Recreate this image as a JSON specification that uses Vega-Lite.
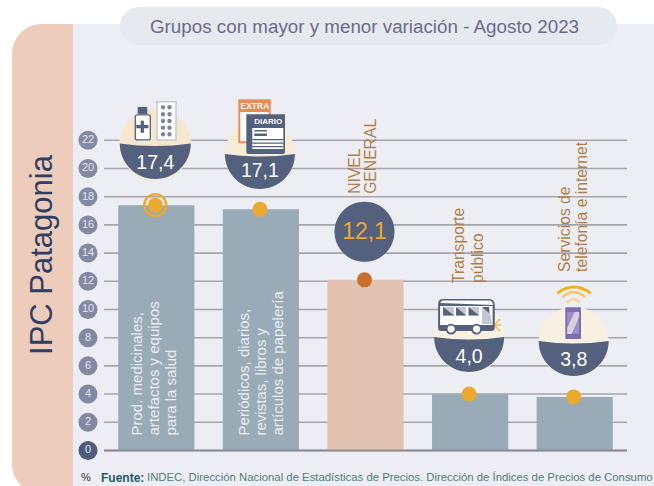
{"$schema":"https://vega.github.io/schema/vega-lite/v6.json","width":654,"height":486,"padding":0,"autosize":"none","background":"white","config":{"view":{"stroke":null},"text":{"font":"Liberation Sans"}},
"title":{"text":"Grupos con mayor y menor variación - Agosto 2023","frame":"group","anchor":"start","dx":150,"offset":-37,"font":"Liberation Sans","fontSize":18.8,"fontWeight":"normal","color":"#6d6a8e"},
"data":{"values":[
{"clave":"salud","grupo":"Prod. medicinales, artefactos y equipos para la salud","valor":17.4,"etiqueta":"17,4","tipo":"grupo","rotulo":"Prod. medicinales,|artefactos y equipos|para la salud"},
{"clave":"diarios","grupo":"Periódicos, diarios, revistas, libros y artículos de papelería","valor":17.1,"etiqueta":"17,1","tipo":"grupo","rotulo":"Periódicos, diarios,|revistas, libros y|artículos de papelería"},
{"clave":"general","grupo":"NIVEL GENERAL","valor":12.1,"etiqueta":"12,1","tipo":"general","rotulo":"NIVEL|GENERAL"},
{"clave":"transporte","grupo":"Transporte público","valor":4.0,"etiqueta":"4,0","tipo":"grupo","rotulo":"Transporte|público"},
{"clave":"telefonia","grupo":"Servicios de telefonía e internet","valor":3.8,"etiqueta":"3,8","tipo":"grupo","rotulo":"Servicios  de|telefonía e internet"}
]},
"encoding":{
"x":{"field":"grupo","type":"nominal","sort":null,"axis":null,"scale":{"type":"band","range":[104,627],"paddingInner":0.272,"paddingOuter":0.136}},
"y":{"field":"valor","type":"quantitative","axis":null,"scale":{"domain":[-2.52,31.95],"nice":false,"zero":false}}
},
"layer":[
{"data":{"values":[{}]},"mark":{"type":"rect","color":"#edeef3"},"encoding":{"x":{"value":73},"x2":{"value":654},"y":{"value":24},"y2":{"value":486}}},
{"data":{"values":[{}]},"mark":{"type":"rect","color":"#eeccbc","cornerRadiusTopLeft":30,"cornerRadiusBottomLeft":30},"encoding":{"x":{"value":12},"x2":{"value":73},"y":{"value":24},"y2":{"value":494}}},
{"data":{"values":[{}]},"mark":{"type":"rect","color":"#e6e9ed","cornerRadius":19},"encoding":{"x":{"value":120},"x2":{"value":617},"y":{"value":7},"y2":{"value":45}}},
{"data":{"values":[{"tick":2},{"tick":4},{"tick":6},{"tick":8},{"tick":10},{"tick":12},{"tick":14},{"tick":16},{"tick":18},{"tick":20},{"tick":22},{"tick":0}]},"mark":{"type":"rule","color":"#a4a5ac","strokeWidth":1.6},"encoding":{"x":{"value":104},"x2":{"value":627},"y":{"field":"tick","type":"quantitative","axis":null,"scale":{"domain":[-2.52,31.95],"nice":false,"zero":false}}}},
{"data":{"values":[{"tick":0},{"tick":2},{"tick":4},{"tick":6},{"tick":8},{"tick":10},{"tick":12},{"tick":14},{"tick":16},{"tick":18},{"tick":20},{"tick":22}]},"mark":{"type":"point","filled":true,"opacity":1,"size":361},"encoding":{"x":{"value":88},"y":{"field":"tick","type":"quantitative","axis":null,"scale":{"domain":[-2.52,31.95],"nice":false,"zero":false}},"color":{"condition":{"test":"datum.tick===0","value":"#4f5b7e"},"value":"#8189a3"}}},
{"data":{"values":[{"tick":0},{"tick":2},{"tick":4},{"tick":6},{"tick":8},{"tick":10},{"tick":12},{"tick":14},{"tick":16},{"tick":18},{"tick":20},{"tick":22}]},"mark":{"type":"text","color":"#e3e6ed","fontSize":11,"align":"center","baseline":"middle"},"encoding":{"x":{"value":88},"y":{"field":"tick","type":"quantitative","axis":null,"scale":{"domain":[-2.52,31.95],"nice":false,"zero":false}},"text":{"field":"tick","type":"quantitative"}}},
{"mark":{"type":"bar"},"encoding":{"color":{"field":"tipo","type":"nominal","legend":null,"scale":{"domain":["grupo","general"],"range":["#9aabb8","#e2c3b2"]}}}},
{"data":{"values":[{"tick":0}]},"mark":{"type":"rule","color":"#8b8c92","strokeWidth":2},"encoding":{"x":{"value":104},"x2":{"value":627},"y":{"field":"tick","type":"quantitative","axis":null,"scale":{"domain":[-2.52,31.95],"nice":false,"zero":false}}}},
{"transform":[{"filter":"datum.tipo==='grupo'"}],"mark":{"type":"circle","color":"#eba92d","opacity":1,"size":225,"xOffset":-1}},
{"transform":[{"filter":"datum.tipo==='general'"}],"mark":{"type":"circle","color":"#c96f2e","opacity":1,"size":225,"xOffset":-1}},
{"transform":[{"filter":"datum.clave==='salud'"}],"mark":{"type":"point","filled":false,"color":"#eba92d","opacity":1,"size":484,"strokeWidth":2.4,"shape":"circle","xOffset":-1}},

{"transform":[{"filter":"datum.clave==='salud'"}],"mark":{"type":"point","filled":true,"opacity":1,"color":"#f5e8cf","size":4,"xOffset":-1,"yOffset":-60.7,"shape":"M-36 0A36 36 0 1 1 36 0A36 36 0 1 1 -36 0Z"}},
{"transform":[{"filter":"datum.clave==='salud'"}],"mark":{"type":"point","filled":true,"opacity":1,"color":"#53617f","size":4,"xOffset":-1,"yOffset":-60.7,"shape":"M-35.5 -1Q0 4 35.5 -1A35.5 35.5 0 0 1 -35.5 -1Z"}},
{"transform":[{"filter":"datum.clave==='diarios'"}],"mark":{"type":"point","filled":true,"opacity":1,"color":"#f6ecd8","size":4,"xOffset":-1,"yOffset":-55.4,"shape":"M-35 0A35 35 0 1 1 35 0A35 35 0 1 1 -35 0Z"}},
{"transform":[{"filter":"datum.clave==='diarios'"}],"mark":{"type":"point","filled":true,"opacity":1,"color":"#53617f","size":4,"xOffset":-1,"yOffset":-55.4,"shape":"M-35 0Q0 5 35 0A35 35 0 0 1 -35 0Z"}},
{"transform":[{"filter":"datum.clave==='general'"}],"mark":{"type":"point","filled":true,"opacity":1,"color":"#53617f","size":4,"xOffset":-1,"yOffset":-48,"shape":"M-30 0A30 30 0 1 1 30 0A30 30 0 1 1 -30 0Z"}},
{"transform":[{"filter":"datum.clave==='transporte'"}],"mark":{"type":"point","filled":true,"opacity":1,"color":"#f8f0e0","size":4,"xOffset":-1,"yOffset":-56,"shape":"M-35 0A35 35 0 1 1 35 0A35 35 0 1 1 -35 0Z"}},
{"transform":[{"filter":"datum.clave==='transporte'"}],"mark":{"type":"point","filled":true,"opacity":1,"color":"#53617f","size":4,"xOffset":-1,"yOffset":-56,"shape":"M-35 -1Q0 4 35 -1A35 35 0 0 1 -35 -1Z"}},
{"transform":[{"filter":"datum.clave==='telefonia'"}],"mark":{"type":"point","filled":true,"opacity":1,"color":"#f8f0e0","size":4,"xOffset":-1,"yOffset":-55,"shape":"M-35 0A35 35 0 1 1 35 0A35 35 0 1 1 -35 0Z"}},
{"transform":[{"filter":"datum.clave==='telefonia'"}],"mark":{"type":"point","filled":true,"opacity":1,"color":"#53617f","size":4,"xOffset":-1,"yOffset":-55,"shape":"M-35 -1Q0 4 35 -1A35 35 0 0 1 -35 -1Z"}},

{"transform":[{"filter":"datum.clave==='salud'"}],"mark":{"type":"point","filled":true,"opacity":1,"color":"#ffffff","stroke":"#53617f","strokeWidth":1.3,"size":4,"xOffset":-1,"yOffset":-60.7,"shape":"M-18 -29.5H-7Q-5 -29.5 -5 -27.5V-6.5Q-5 -4.5 -7 -4.5H-18Q-20 -4.5 -20 -6.5V-27.5Q-20 -29.5 -18 -29.5Z"}},
{"transform":[{"filter":"datum.clave==='salud'"}],"mark":{"type":"point","filled":true,"opacity":1,"color":"#53617f","size":4,"xOffset":-1,"yOffset":-60.7,"shape":"M-17.6 -37.5H-8V-30.5H-17.6ZM-14.6 -23.8H-11.4V-19.4H-7V-16.2H-11.4V-11.8H-14.6V-16.2H-19V-19.4H-14.6Z"}},
{"transform":[{"filter":"datum.clave==='salud'"}],"mark":{"type":"point","filled":true,"opacity":1,"color":"#ffffff","stroke":"#c5c9d8","strokeWidth":1.5,"size":4,"xOffset":-1,"yOffset":-60.7,"shape":"M1.7 -42.8H20.7V-4.5H1.7Z"}},
{"transform":[{"filter":"datum.clave==='salud'"}],"mark":{"type":"point","filled":true,"opacity":1,"color":"#7b84a0","size":4,"xOffset":-1,"yOffset":-60.7,"shape":"M5.5 -37.2a2.2 2.2 0 1 0 4.4 0a2.2 2.2 0 1 0 -4.4 0ZM12 -37.2a2.2 2.2 0 1 0 4.4 0a2.2 2.2 0 1 0 -4.4 0ZM5.5 -30.2a2.2 2.2 0 1 0 4.4 0a2.2 2.2 0 1 0 -4.4 0ZM12 -30.2a2.2 2.2 0 1 0 4.4 0a2.2 2.2 0 1 0 -4.4 0ZM5.5 -23.5a2.2 2.2 0 1 0 4.4 0a2.2 2.2 0 1 0 -4.4 0ZM12 -23.5a2.2 2.2 0 1 0 4.4 0a2.2 2.2 0 1 0 -4.4 0ZM5.5 -16.8a2.2 2.2 0 1 0 4.4 0a2.2 2.2 0 1 0 -4.4 0ZM12 -16.8a2.2 2.2 0 1 0 4.4 0a2.2 2.2 0 1 0 -4.4 0ZM5.5 -10.2a2.2 2.2 0 1 0 4.4 0a2.2 2.2 0 1 0 -4.4 0ZM12 -10.2a2.2 2.2 0 1 0 4.4 0a2.2 2.2 0 1 0 -4.4 0Z"}},

{"transform":[{"filter":"datum.clave==='diarios'"}],"mark":{"type":"point","filled":true,"opacity":1,"color":"#e98b55","size":4,"xOffset":-1,"yOffset":-55.4,"shape":"M-21.6 -54.7H10.8V-10.7H-21.6Z"}},
{"transform":[{"filter":"datum.clave==='diarios'"}],"mark":{"type":"point","filled":true,"opacity":1,"color":"#ffffff","size":4,"xOffset":-1,"yOffset":-55.4,"shape":"M-19.6 -42H8.8V-12.7H-19.6Z"}},
{"transform":[{"filter":"datum.clave==='diarios'"}],"mark":{"type":"point","filled":true,"opacity":1,"color":"#53617f","size":4,"xOffset":-1,"yOffset":-55.4,"shape":"M-13.6 -39.7H25.1V-2Q25.1 0 23.1 0H-11.6Q-13.6 0 -13.6 -2Z"}},
{"transform":[{"filter":"datum.clave==='diarios'"}],"mark":{"type":"point","filled":true,"opacity":1,"color":"#ffffff","size":4,"xOffset":-1,"yOffset":-55.4,"shape":"M-7.6 -26H23.4V-5H-7.6Z"}},
{"transform":[{"filter":"datum.clave==='diarios'"}],"mark":{"type":"point","filled":true,"opacity":1,"color":"#53617f","size":4,"xOffset":-1,"yOffset":-55.4,"shape":"M-5.6 -24H7V-22.5H-5.6ZM-5.6 -20.5H7V-18H-5.6ZM-7.6 -15H23.4V-13.8H-7.6ZM-7.6 -11.5H23.4V-10.3H-7.6ZM-7.6 -8H23.4V-6.8H-7.6Z"}},
{"data":{"values":[{"grupo":"Periódicos, diarios, revistas, libros y artículos de papelería","valor":17.1,"t":"EXTRA"}]},"mark":{"type":"text","color":"#ffffff","fontWeight":"bold","fontSize":8.5,"xOffset":-6,"yOffset":-103},"encoding":{"text":{"field":"t"}}},
{"data":{"values":[{"grupo":"Periódicos, diarios, revistas, libros y artículos de papelería","valor":17.1,"t":"DIARIO"}]},"mark":{"type":"text","color":"#ffffff","fontWeight":"bold","fontSize":8,"xOffset":7.4,"yOffset":-87},"encoding":{"text":{"field":"t"}}},

{"transform":[{"filter":"datum.clave==='transporte'"}],"mark":{"type":"point","filled":true,"opacity":1,"color":"#53617f","size":4,"xOffset":-1,"yOffset":-56,"shape":"M-26 -39H20Q25.7 -39 25.7 -32V-10Q25.7 -7 22 -7H-28Q-31 -7 -31 -10V-34Q-31 -39 -26 -39Z"}},
{"transform":[{"filter":"datum.clave==='transporte'"}],"mark":{"type":"point","filled":true,"opacity":1,"color":"#ffffff","size":4,"xOffset":-1,"yOffset":-56,"shape":"M-27 -37.5H20Q23.5 -37.5 24 -33L-29 -35ZM-29 -32H23.5V-13H-29Z"}},
{"transform":[{"filter":"datum.clave==='transporte'"}],"mark":{"type":"point","filled":true,"opacity":1,"color":"#c2c7d6","size":4,"xOffset":-1,"yOffset":-56,"shape":"M-26 -31H-15V-22.5H-26ZM-13 -31H-3V-22.5H-13ZM-0.5 -31H10V-22.5H-0.5ZM13 -31H20L23 -14H13Z"}},
{"transform":[{"filter":"datum.clave==='transporte'"}],"mark":{"type":"point","filled":true,"opacity":1,"color":"#53617f","size":4,"xOffset":-1,"yOffset":-56,"shape":"M-26 -31L-15 -22.5H-26ZM-13 -31L-3 -22.5H-13ZM-0.5 -31L10 -22.5H-0.5ZM13 -31L20 -31V-25Z"}},
{"transform":[{"filter":"datum.clave==='transporte'"}],"mark":{"type":"point","filled":true,"opacity":1,"color":"#ffffff","stroke":"#53617f","strokeWidth":1.8,"size":4,"xOffset":-1,"yOffset":-56,"shape":"M-22.5 -9a4.5 4.5 0 1 0 9 0a4.5 4.5 0 1 0 -9 0ZM2.9 -9a4.5 4.5 0 1 0 9 0a4.5 4.5 0 1 0 -9 0Z"}},
{"transform":[{"filter":"datum.clave==='transporte'"}],"mark":{"type":"point","filled":false,"opacity":1,"color":"#f3b84a","strokeWidth":1.4,"size":4,"xOffset":-1,"yOffset":-56,"shape":"M26 -13L32 -13M26 -14L31 -19M26 -12L31 -7"}},

{"transform":[{"filter":"datum.clave==='telefonia'"}],"mark":{"type":"point","filled":true,"opacity":1,"color":"#7f6bb0","size":4,"xOffset":-1,"yOffset":-55,"shape":"M-7.4 -34.7H6.3Q7.3 -34.7 7.3 -33.7V-4Q7.3 -3 6.3 -3H-7.4Q-8.4 -3 -8.4 -4V-33.7Q-8.4 -34.7 -7.4 -34.7Z"}},
{"transform":[{"filter":"datum.clave==='telefonia'"}],"mark":{"type":"point","filled":true,"opacity":1,"color":"#9d8ec9","size":4,"xOffset":-1,"yOffset":-55,"shape":"M-6.5 -30H5.4V-8H-6.5Z"}},
{"transform":[{"filter":"datum.clave==='telefonia'"}],"mark":{"type":"point","filled":true,"opacity":1,"color":"#d5d3e0","size":4,"xOffset":-1,"yOffset":-55,"shape":"M1 -30H5.4V-25L-2 -8H-6.5V-14Z"}},
{"transform":[{"filter":"datum.clave==='telefonia'"}],"mark":{"type":"point","filled":false,"opacity":1,"color":"#f0b11f","strokeWidth":3,"size":4,"xOffset":-1,"yOffset":-55,"shape":"M-16.4 -48.7Q0 -61 17 -48.7"}},
{"transform":[{"filter":"datum.clave==='telefonia'"}],"mark":{"type":"point","filled":false,"opacity":1,"color":"#f6c873","strokeWidth":2.6,"size":4,"xOffset":-1,"yOffset":-55,"shape":"M-11.4 -44.7Q0 -54.7 11.4 -44.7"}},
{"transform":[{"filter":"datum.clave==='telefonia'"}],"mark":{"type":"point","filled":false,"opacity":1,"color":"#f8d79f","strokeWidth":2.4,"size":4,"xOffset":-1,"yOffset":-55,"shape":"M-7 -39.3Q0 -46 6 -39.3"}},

{"transform":[{"filter":"datum.clave==='salud'"}],"mark":{"type":"text","color":"#ffffff","fontSize":19.5,"xOffset":-1,"yOffset":-42},"encoding":{"text":{"field":"etiqueta"}}},
{"transform":[{"filter":"datum.clave==='diarios'"}],"mark":{"type":"text","color":"#ffffff","fontSize":19.5,"xOffset":-1,"yOffset":-38},"encoding":{"text":{"field":"etiqueta"}}},
{"transform":[{"filter":"datum.clave==='general'"}],"mark":{"type":"text","color":"#eba92d","fontSize":23,"xOffset":-1,"yOffset":-48},"encoding":{"text":{"field":"etiqueta"}}},
{"transform":[{"filter":"datum.clave==='transporte'"}],"mark":{"type":"text","color":"#ffffff","fontSize":19.5,"xOffset":-1,"yOffset":-37},"encoding":{"text":{"field":"etiqueta"}}},
{"transform":[{"filter":"datum.clave==='telefonia'"}],"mark":{"type":"text","color":"#ffffff","fontSize":19.5,"xOffset":-1,"yOffset":-37},"encoding":{"text":{"field":"etiqueta"}}},

{"transform":[{"filter":"datum.clave==='salud'"}],"mark":{"type":"text","color":"#e8edf0","fontSize":15,"angle":-90,"align":"left","baseline":"middle","lineBreak":"|","lineHeight":17,"xOffset":-19,"yOffset":-15},"encoding":{"y":{"datum":0,"type":"quantitative","scale":{"domain":[-2.52,31.95],"nice":false,"zero":false},"axis":null},"text":{"field":"rotulo"}}},
{"transform":[{"filter":"datum.clave==='diarios'"}],"mark":{"type":"text","color":"#e8edf0","fontSize":15,"angle":-90,"align":"left","baseline":"middle","lineBreak":"|","lineHeight":17,"xOffset":-17,"yOffset":-15},"encoding":{"y":{"datum":0,"type":"quantitative","scale":{"domain":[-2.52,31.95],"nice":false,"zero":false},"axis":null},"text":{"field":"rotulo"}}},
{"transform":[{"filter":"datum.clave==='general'"}],"mark":{"type":"text","color":"#b07f4a","fontSize":15.7,"angle":-90,"align":"left","baseline":"middle","lineBreak":"|","lineHeight":16.5,"xOffset":-11,"yOffset":-86},"encoding":{"text":{"field":"rotulo"}}},
{"transform":[{"filter":"datum.clave==='transporte'"}],"mark":{"type":"text","color":"#b07f4a","fontSize":15.7,"angle":-90,"align":"left","baseline":"middle","lineBreak":"|","lineHeight":19,"xOffset":-11,"yOffset":-111},"encoding":{"text":{"field":"rotulo"}}},
{"transform":[{"filter":"datum.clave==='telefonia'"}],"mark":{"type":"text","color":"#b07f4a","fontSize":15.7,"angle":-90,"align":"left","baseline":"middle","lineBreak":"|","lineHeight":17,"xOffset":-10,"yOffset":-125},"encoding":{"text":{"field":"rotulo"}}},

{"data":{"values":[{"t":"IPC Patagonia"}]},"mark":{"type":"text","color":"#2f3e63","fontSize":31,"angle":-90,"align":"center","baseline":"middle"},"encoding":{"x":{"value":43},"y":{"value":255},"text":{"field":"t"}}},
{"data":{"values":[{"t":"%"}]},"mark":{"type":"text","color":"#333333","fontSize":11,"align":"center","baseline":"middle"},"encoding":{"x":{"value":86},"y":{"value":478},"text":{"field":"t"}}},
{"data":{"values":[{"t":"Fuente:"}]},"mark":{"type":"text","color":"#1f5a63","fontWeight":"bold","fontSize":12,"align":"left","baseline":"middle"},"encoding":{"x":{"value":101},"y":{"value":478},"text":{"field":"t"}}},
{"data":{"values":[{"t":"INDEC, Dirección Nacional de Estadísticas de Precios. Dirección de Índices de Precios de Consumo"}]},"mark":{"type":"text","color":"#4f7d85","fontSize":11.35,"align":"left","baseline":"middle"},"encoding":{"x":{"value":147},"y":{"value":478},"text":{"field":"t"}}}
]}
